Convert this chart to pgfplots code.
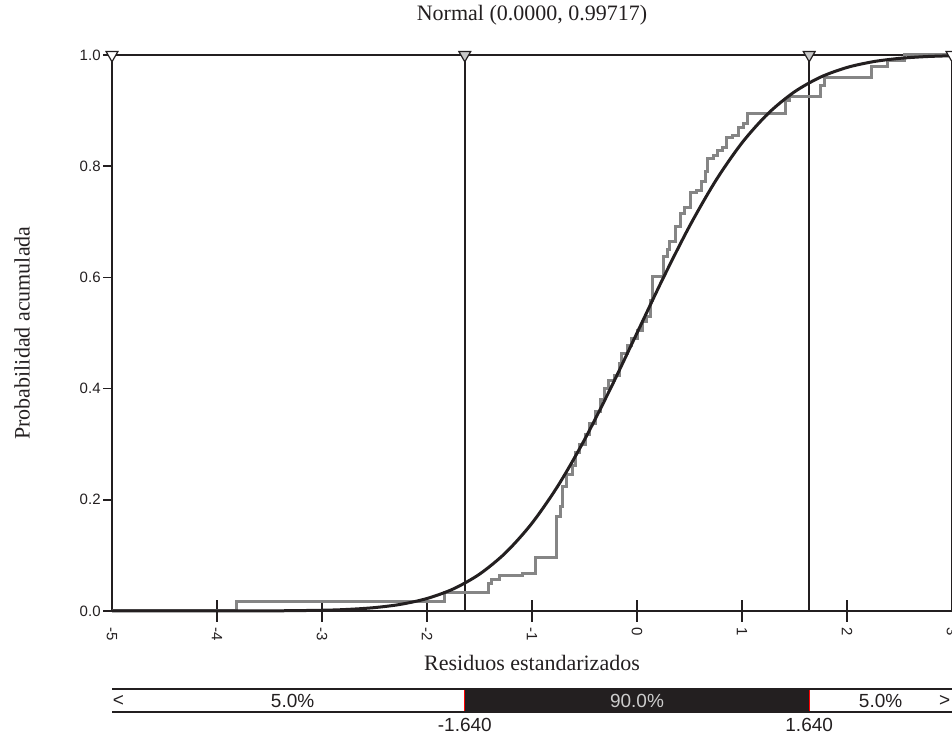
\documentclass[border=0pt]{standalone}
\usepackage{fontspec}
\setmainfont{Liberation Serif}
\setsansfont{Liberation Sans}
\usepackage{pgfplots}
\pgfplotsset{compat=1.18}

\definecolor{ink}{HTML}{231F20}
\definecolor{stepgray}{HTML}{858585}
\definecolor{trigray}{HTML}{C8C8C8}

\begin{document}
\begin{tikzpicture}
\begin{axis}[
    scale only axis,
    width=420pt, height=278pt,
    xmin=-5, xmax=3, ymin=0, ymax=1,
    clip=false,
    axis line style={line width=0.75pt, ink},
    xtick={-5,-4,-3,-2,-1,0,1,2,3},
    xticklabels={-5,-4,-3,-2,-1,0,1,2,3},
    ytick={0,0.2,0.4,0.6,0.8,1},
    yticklabels={0.0,0.2,0.4,0.6,0.8,1.0},
    tick align=outside,
    major tick length=4.5pt,
    tick pos=left,
    tick style={line width=0.75pt, ink},
    xtick style={draw=none},
    ticklabel style={font=\sffamily\fontsize{7.5}{9}\selectfont, text=ink},
    xticklabel style={rotate=-90, anchor=west, inner sep=1pt, xshift=2.5pt},
    yticklabel style={inner sep=1pt},
]

% x ticks cross the axis line
\pgfplotsinvokeforeach{-4,-3,-2,-1,0,1,2}{
  \draw[line width=0.75pt, ink] ([yshift=-5.5pt]axis cs:#1,0) -- ([yshift=5.5pt]axis cs:#1,0);
}

% critical values
\addplot[line width=0.75pt, ink] coordinates {(-1.64,0) (-1.64,1)};
\addplot[line width=0.75pt, ink] coordinates {(1.64,0) (1.64,1)};

% empirical distribution (step)
\addplot[const plot, line width=1.5pt, stepgray] coordinates {
    (-5,0) (-3.819,0.0165) (-1.829,0.033) (-1.419,0.050) (-1.381,0.057)
    (-1.305,0.063) (-1.086,0.068) (-0.971,0.097) (-0.762,0.170) (-0.733,0.188)
    (-0.705,0.224) (-0.667,0.245) (-0.619,0.262) (-0.581,0.285) (-0.543,0.300)
    (-0.495,0.318) (-0.448,0.338) (-0.400,0.358) (-0.352,0.380) (-0.314,0.400)
    (-0.276,0.415) (-0.210,0.424) (-0.171,0.445) (-0.143,0.464) (-0.086,0.478)
    (-0.048,0.490) (0.000,0.505) (0.048,0.520) (0.095,0.530) (0.124,0.559)
    (0.143,0.601) (0.257,0.637) (0.286,0.650) (0.314,0.664) (0.362,0.691)
    (0.410,0.715) (0.457,0.725) (0.505,0.752) (0.571,0.757) (0.619,0.772)
    (0.657,0.790) (0.667,0.814) (0.724,0.820) (0.771,0.829) (0.819,0.833)
    (0.857,0.851) (0.914,0.856) (0.962,0.869) (1.010,0.877) (1.048,0.895)
    (1.410,0.919) (1.448,0.925) (1.743,0.946) (1.781,0.960) (2.238,0.979)
    (2.390,0.990) (2.550,1.000) (3,1.000)
};

% fitted normal cdf
\addplot[smooth, line width=1.5pt, ink] coordinates {
    (-5,0.0000) (-4.5,0.0000) (-4,0.00003) (-3.5,0.00022) (-3,0.00131)
    (-2.75,0.00291) (-2.5,0.00609) (-2.25,0.01202) (-2,0.02245) (-1.75,0.03963)
    (-1.5,0.06626) (-1.25,0.10502) (-1,0.15798) (-0.75,0.22599) (-0.5,0.30804)
    (-0.25,0.40102) (0,0.5) (0.25,0.59898) (0.5,0.69196) (0.75,0.77401)
    (1,0.84202) (1.25,0.89498) (1.5,0.93374) (1.75,0.96037) (2,0.97755)
    (2.25,0.98798) (2.5,0.99391) (2.75,0.99709) (3,0.99869)
};

% markers on top
\addplot[only marks, mark=triangle*, mark size=3.4pt,
    mark options={rotate=180, fill=white, draw=ink, line width=0.6pt}]
    coordinates {(-5,1) (3,1)};
\addplot[only marks, mark=triangle*, mark size=3.4pt,
    mark options={rotate=180, fill=trigray, draw=ink, line width=0.6pt}]
    coordinates {(-1.64,1) (1.64,1)};

% titles
\node[font=\fontsize{11}{13}\selectfont, text=ink] at (axis cs:-1,1.072) {Normal (0.0000, 0.99717)};
\node[font=\fontsize{11}{13}\selectfont, text=ink] at (axis cs:-1,-0.0935) {Residuos estandarizados};
\node[font=\fontsize{11}{13}\selectfont, text=ink, rotate=90] at (axis cs:-5.857,0.5) {Probabilidad acumulada};

% probability bar
\fill[ink] (axis cs:-1.64,-0.1403) rectangle (axis cs:1.64,-0.1817);
\draw[line width=0.6pt, red] (axis cs:-1.64,-0.1403) -- (axis cs:-1.64,-0.1817)
    -- (axis cs:1.64,-0.1817) -- (axis cs:1.64,-0.1403);
\draw[line width=1pt, ink] (axis cs:-5,-0.1403) -- (axis cs:3,-0.1403);
\draw[line width=1pt, ink] (axis cs:-5,-0.1817) -- (axis cs:3,-0.1817);
\begin{scope}[every node/.style={font=\sffamily\fontsize{9.5}{11}\selectfont, text=ink}]
\node at (axis cs:-4.94,-0.161) {<};
\node at (axis cs:-3.28,-0.161) {5.0\%};
\node[text=white!80!black] at (axis cs:0,-0.161) {90.0\%};
\node at (axis cs:2.32,-0.161) {5.0\%};
\node at (axis cs:2.93,-0.161) {>};
\node at (axis cs:-1.64,-0.205) {-1.640};
\node at (axis cs:1.64,-0.205) {1.640};
\end{scope}
\end{axis}
\pgfresetboundingbox
\useasboundingbox ([shift={(-56pt,-63pt)}]current axis.south west)
    rectangle ([shift={(0pt,27.5pt)}]current axis.north east);
\end{tikzpicture}
\end{document}
